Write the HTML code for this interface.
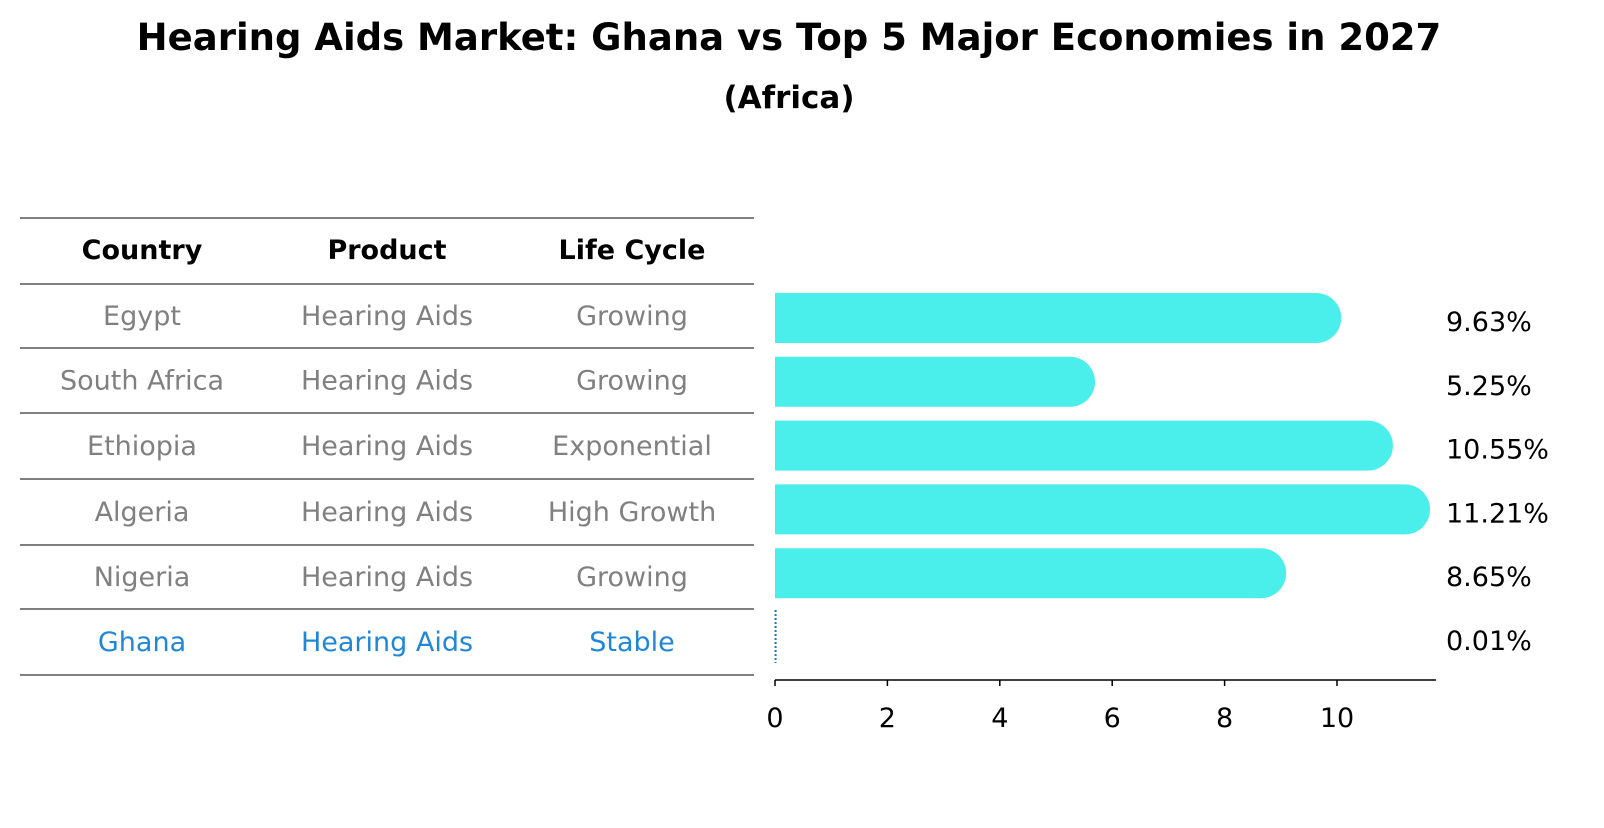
<!DOCTYPE html>
<html><head><meta charset="utf-8"><style>
body{margin:0;background:#fff;font-family:"Liberation Sans","DejaVu Sans",sans-serif;}
svg text{font-family:"DejaVu Sans","Liberation Sans",sans-serif;}
</style></head><body>
<svg width="1604" height="823" xmlns="http://www.w3.org/2000/svg">
<text x="789" y="50" text-anchor="middle" font-size="37" font-weight="bold">Hearing Aids Market: Ghana vs Top 5 Major Economies in 2027</text>
<text x="789" y="108" text-anchor="middle" font-size="31" font-weight="bold">(Africa)</text>
<g id="table"></g>
<g id="bars"></g>
</svg>
<script>
const countries=["Egypt","South Africa","Ethiopia","Algeria","Nigeria","Ghana"];
const products=["Hearing Aids","Hearing Aids","Hearing Aids","Hearing Aids","Hearing Aids","Hearing Aids"];
const cycles=["Growing","Growing","Exponential","High Growth","Growing","Stable"];
const values=[9.63,5.25,10.55,11.21,8.65,0.01];
const ticks=[0,2,4,6,8,10];
const NS="http://www.w3.org/2000/svg";
function mk(tag,attrs,parent){const e=document.createElementNS(NS,tag);for(const k in attrs)e.setAttribute(k,attrs[k]);parent.appendChild(e);return e;}
const tb=document.getElementById('table'),bg=document.getElementById('bars');
const lines=[218,284,348,413,479,545,609,675];
lines.forEach(y=>{const l=mk('line',{x1:20,x2:754,y1:y,y2:y,stroke:'#000','stroke-width':1},tb);

});
const cols=[142,387,632];
["Country","Product","Life Cycle"].forEach((h,i)=>{const t=mk('text',{x:cols[i],y:259,'text-anchor':'middle','font-size':27,'font-weight':'bold'},tb);t.textContent=h;

});
const x0=775,sc=56.2;
function X(v){return x0+v*sc;}
countries.forEach((c,i)=>{
 const cy=(lines[i+1]+lines[i+2])/2;
 const col=c==="Ghana"?'#1f87d6':'#808080';
 [c,products[i],cycles[i]].forEach((s,j)=>{const t=mk('text',{x:cols[j],y:cy+9,'text-anchor':'middle','font-size':27,fill:col},tb);t.textContent=s;
 
 });
 const bcy=318+i*63.8,h=50,r=25,v=values[i];
 let b;
 if(v<0.1){b=mk('line',{x1:X(v),x2:X(v),y1:bcy-27,y2:bcy+26,stroke:'#1f77b4','stroke-width':2,'stroke-dasharray':'2,2'},bg);}
 else{const xe=X(v);b=mk('path',{d:`M${x0},${bcy-h/2}H${xe}A${r},${r} 0 0 1 ${xe},${bcy+h/2}H${x0}Z`,fill:'#4aeeea'},bg);}
 
 
 const t=mk('text',{x:1446,y:bcy+13,'font-size':27},bg);t.textContent=v.toFixed(2)+'%';
 
 
});
const ax=mk('line',{x1:x0,x2:1436,y1:680,y2:680,stroke:'#000','stroke-width':1.5},bg);


ticks.forEach(v=>{const l=mk('line',{x1:X(v),x2:X(v),y1:680,y2:686,stroke:'#000','stroke-width':1.5},bg);


const t=mk('text',{x:X(v),y:727,'text-anchor':'middle','font-size':27},bg);t.textContent=v;

});
</script>
</body></html>
